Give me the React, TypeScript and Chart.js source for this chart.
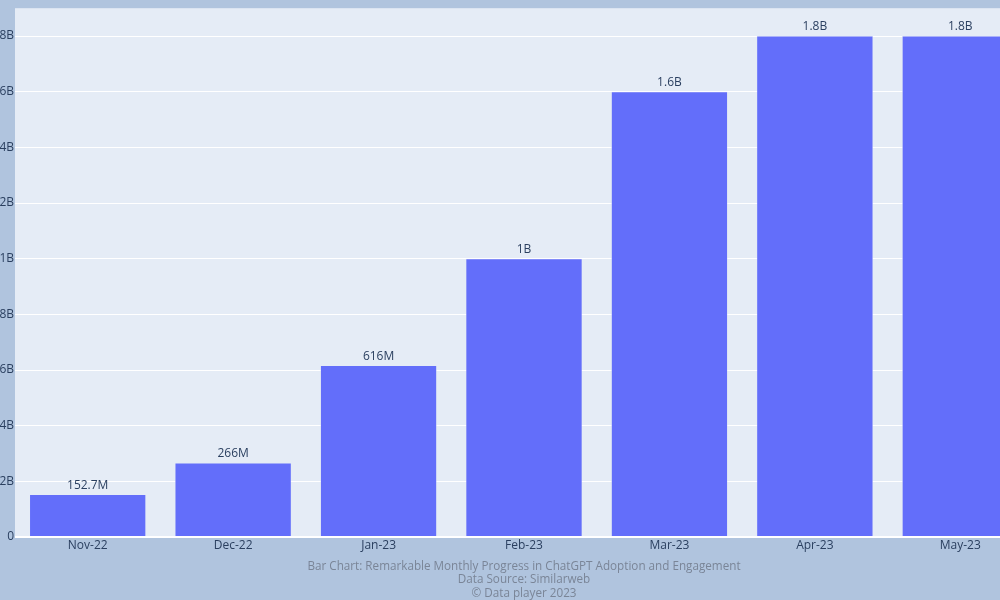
import { Chart, registerables, Plugin } from "chart.js";
import { useEffect, useRef } from "react";

Chart.register(...registerables);

const months = ["Nov-22", "Dec-22", "Jan-23", "Feb-23", "Mar-23", "Apr-23", "May-23"];
const visits = [152.7e6, 266e6, 616e6, 1.0e9, 1.6e9, 1.8e9, 1.8e9];
const visitLabels = ["152.7M", "266M", "616M", "1B", "1.6B", "1.8B", "1.8B"];
const yTicks = [0, 0.2e9, 0.4e9, 0.6e9, 0.8e9, 1.0e9, 1.2e9, 1.4e9, 1.6e9, 1.8e9];
const captionLines = [
  "Bar Chart: Remarkable Monthly Progress in ChatGPT Adoption and Engagement",
  "Data Source: Similarweb",
  "\u00A9 Data player 2023",
];

const FONT = '"Open Sans", verdana, arial, sans-serif';

// plot background + labels on top of the bars
const plotBg: Plugin<"bar"> = {
  id: "plotBg",
  beforeDraw(chart) {
    const { ctx, chartArea } = chart;
    ctx.save();
    ctx.fillStyle = "#e5ecf6";
    ctx.fillRect(chartArea.left, chartArea.top, chartArea.right - chartArea.left, chartArea.bottom - chartArea.top);
    ctx.restore();
  },
};

const barText: Plugin<"bar"> = {
  id: "barText",
  afterDatasetsDraw(chart) {
    const { ctx } = chart;
    const meta = chart.getDatasetMeta(0);
    ctx.save();
    ctx.font = "12px " + FONT;
    ctx.fillStyle = "#2a3f5f";
    ctx.textAlign = "center";
    ctx.textBaseline = "middle";
    meta.data.forEach((bar, i) => {
      ctx.fillText(visitLabels[i], bar.x, bar.y - 9);
    });
    ctx.restore();
  },
};

const App: React.FC = () => {
  const chartRef = useRef<HTMLCanvasElement | null>(null);

  useEffect(() => {
    if (!chartRef.current) return;
    const myChart = new Chart(chartRef.current, {
      type: "bar",
      data: {
        labels: months,
        datasets: [{
          data: visits,
          backgroundColor: "#636efa",
          borderColor: "#e5ecf6",
          borderWidth: 0.5,
          barPercentage: 0.8,
          categoryPercentage: 1,
        }],
      },
      options: {
        animation: false,
        responsive: true,
        maintainAspectRatio: false,
        layout: { padding: { top: 7, right: 7, left: 0, bottom: 0 } },
        plugins: {
          legend: { display: false },
          tooltip: { enabled: false },
        },
        scales: {
          x: {
            grid: { display: false, drawTicks: false },
            border: { display: false },
            ticks: { color: "#2a3f5f", font: { family: FONT, size: 12 }, padding: 1 },
            title: {
              display: true,
              text: captionLines,
              color: "#7a8597",
              font: { family: FONT, size: 11.7, lineHeight: 1.15 },
              padding: { top: 0, bottom: 0 },
            },
            afterFit: (scale: any) => { scale.height = 63; },
          },
          y: {
            min: 0,
            max: 1.9e9,
            ticks: {
              color: "#2a3f5f",
              font: { family: FONT, size: 12 },
              padding: 1,
              callback: (v: any) => (v === 0 ? "0" : Math.round(v / 1e8) / 10 + "B"),
            },
            grid: {
              color: "#ffffff",
              lineWidth: (c: any) => (c.tick && c.tick.value === 0 ? 2 : 1),
              drawTicks: false,
            },
            border: { display: false },
            afterBuildTicks: (scale: any) => {
              scale.ticks = yTicks.map((value) => ({ value }));
            },
            afterFit: (scale: any) => { scale.width = 55; },
          },
        },
      },
      plugins: [plotBg, barText],
    });
    return () => myChart.destroy();
  }, []);

  return (
    <div style={{ position: "fixed", left: 0, top: 0, width: "1000px", height: "600px", background: "#b0c4de", overflow: "hidden" }}>
      <div style={{ position: "absolute", left: "-40px", top: 0, width: "1080px", height: "600px" }}>
        <canvas ref={chartRef} />
      </div>
    </div>
  );
};

export default App;
